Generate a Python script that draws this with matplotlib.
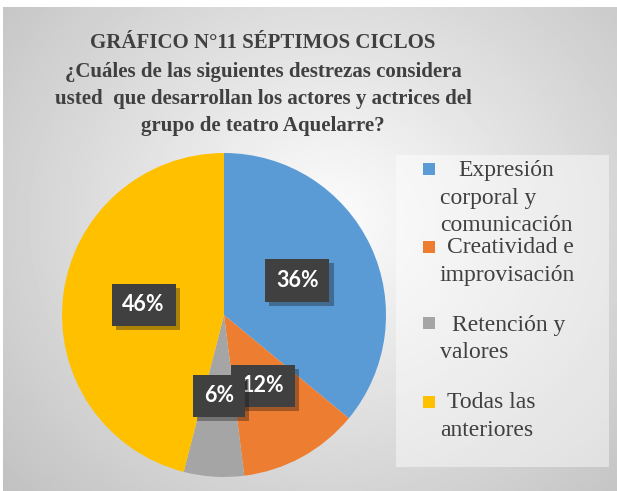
import numpy as np
import matplotlib.pyplot as plt
import matplotlib.patheffects as pe
from matplotlib import font_manager as fm
from matplotlib.patches import Rectangle

serif_reg = fm.FontProperties(fname=fm.findfont(fm.FontProperties(family='Liberation Serif')))
serif_bold = fm.FontProperties(fname=fm.findfont(fm.FontProperties(family='Liberation Serif',
                                                                   weight='bold')))

# chart data
categories = ['Expresión corporal y comunicación', 'Creatividad e improvisación',
              'Retención y valores', 'Todas las anteriores']
legend_lines = [['Expresión', 'corporal y', 'comunicación'],
                ['Creatividad e', 'improvisación'],
                ['Retención y', 'valores'],
                ['Todas las', 'anteriores']]
values = [36, 12, 6, 46]
colors = ['#5B9BD5', '#ED7D31', '#A5A5A5', '#FFC000']

title_lines = ['GRÁFICO N°11 SÉPTIMOS CICLOS',
               '¿Cuáles de las siguientes destrezas considera',
               'usted  que desarrollan los actores y actrices del',
               'grupo de teatro Aquelarre?']

W, H = 617, 491
fig = plt.figure(figsize=(W / 100, H / 100), dpi=100)
fig.patch.set_facecolor('white')
ax = fig.add_axes([0, 0, 1, 1])


def Y(py):
    return H - py


# radial gradient background of the chart area
xx, yy = np.meshgrid(np.linspace(3, W, 300), np.linspace(7, H, 240))
d = np.sqrt(((xx - 330) / 420) ** 2 + ((yy - 220) / 380) ** 2)
shade = np.clip(0.99 - 0.22 * d, 0.76, 0.99)
ax.imshow(shade, cmap='gray', vmin=0, vmax=1, extent=[3, W, Y(H), Y(7)],
          origin='upper', zorder=0, aspect='auto')

# legend box
ax.add_patch(Rectangle((396, Y(467)), 213, 312, facecolor='white', alpha=0.45,
                       edgecolor='none', zorder=1))

# pie
wedges, texts, autotexts = ax.pie(values, colors=colors, startangle=90, counterclock=False,
                                  center=(224, Y(315)), radius=162, autopct='%1.0f%%',
                                  pctdistance=0.5, frame=True,
                                  wedgeprops=dict(linewidth=0),
                                  textprops=dict(color='white', fontsize=15.5,
                                                 fontweight='bold', family='Lato'))
ax.set_xlim(0, W)
ax.set_ylim(0, H)
ax.set_aspect('equal')
ax.axis('off')
for w in wedges:
    w.set_zorder(2)
for t in autotexts:
    t.set_zorder(5)
    t.set_bbox(dict(boxstyle='square,pad=0.5', facecolor='#404040', edgecolor='none'))
    t.get_bbox_patch().set_path_effects([pe.SimplePatchShadow(offset=(3, -3), alpha=0.35),
                                         pe.Normal()])

# title, one line at a time
title_y = [43, 72, 99, 126]
for s, ty in zip(title_lines, title_y):
    ax.text(263, Y(ty), s, ha='center', va='center', fontproperties=serif_bold,
            fontsize=15, color='#404040', zorder=3)

# legend entries
marker_y = [169, 247, 323, 402]
line_y = [[170, 198, 225], [247, 275], [325, 352], [403, 430]]
first_x = [458, 447, 452, 447]
for c, lines, my, ys, fx in zip(colors, legend_lines, marker_y, line_y, first_x):
    ax.add_patch(Rectangle((423, Y(my) - 6), 12, 12, facecolor=c, edgecolor='none', zorder=3))
    for i, (s, ly) in enumerate(zip(lines, ys)):
        ax.text(fx if i == 0 else 440, Y(ly), s, ha='left', va='center',
                fontproperties=serif_reg, fontsize=17, color='#404040', zorder=3)

fig.savefig('out.png', dpi=100)
